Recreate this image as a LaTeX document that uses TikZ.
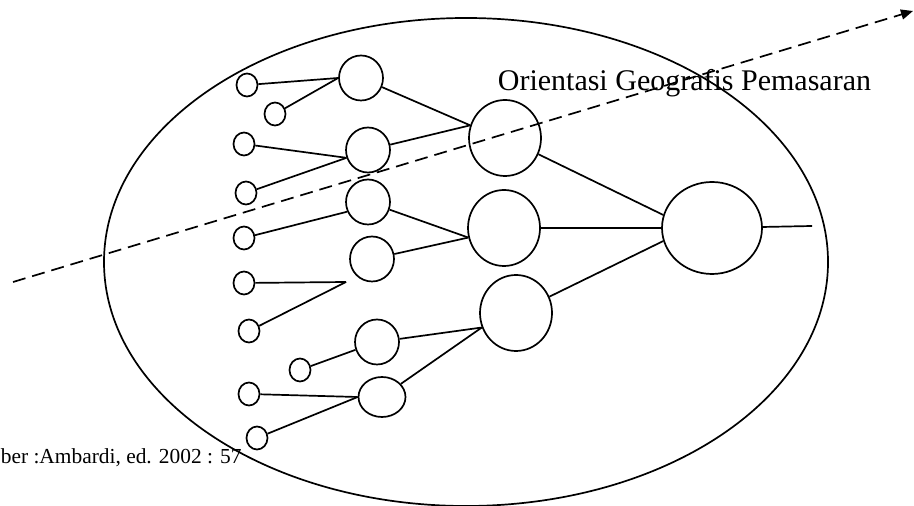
\documentclass[tikz,border=0pt]{standalone}
\usepackage{fontspec}
\setmainfont{Liberation Serif}
\usetikzlibrary{shapes.geometric,arrows.meta}
\begin{document}
\begin{tikzpicture}[x=0.5pt,y=-0.5pt,line width=0.85pt,
  leaf/.style={draw,ellipse,inner sep=0pt,minimum width=10.5pt,minimum height=11.5pt},
  mid/.style={draw,ellipse,inner sep=0pt,minimum width=22pt,minimum height=22.5pt},
  hub/.style={draw,ellipse,inner sep=0pt,minimum width=36pt,minimum height=38pt},
  core/.style={draw,ellipse,inner sep=0pt,minimum width=50pt,minimum height=46pt}]
\useasboundingbox (0,0) rectangle (914,506);
\draw (466,262) ellipse [x radius=362, y radius=244];
% left column
\node[leaf] (s1) at (247,85) {};
\node[leaf] (s2) at (275,114) {};
\node[leaf] (s3) at (244,144) {};
\node[leaf] (s4) at (246,193) {};
\node[leaf] (s5) at (244,238) {};
\node[leaf] (s6) at (244,283) {};
\node[leaf] (s7) at (249,331) {};
\node[leaf] (s8) at (300,370) {};
\node[leaf] (s9) at (249,394) {};
\node[leaf] (s10) at (257,438) {};
% second column
\node[mid] (m1) at (361,78) {};
\node[mid] (m2) at (368,150) {};
\node[mid] (m3) at (368,202) {};
\node[mid] (m4) at (372,259) {};
\node[mid] (m5) at (377,342) {};
\node[mid,minimum width=23.5pt,minimum height=20pt] (m6) at (382,397) {};
% third column
\node[hub] (L1) at (505,138) {};
\node[hub] (L2) at (504,228) {};
\node[hub] (L3) at (516,313) {};
\node[core] (c) at (712,228) {};
\coordinate (j1) at (346,282);
\coordinate (out) at (812,226);
\draw (s1) -- (m1.west);
\draw (s2) -- (m1.west);
\draw (m1) -- (L1.160);
\draw (m2) -- (L1.160);
\draw (s3) -- (m2.200);
\draw (s4) -- (m2.200);
\draw (s5) -- (m3.205);
\draw (m3) -- (L2.195);
\draw (m4) -- (L2.195);
\draw (s6) -- (j1);
\draw (s7) -- (j1);
\draw (s8) -- (m5);
\draw (m5) -- (L3.203);
\draw (m6) -- (L3.203);
\draw (s9) -- (m6.west);
\draw (s10) -- (m6.west);
\draw (L1) -- (c.165);
\draw (L2) -- (c.west);
\draw (L3) -- (c.195);
\draw (c) -- (out);
% labels
\node[anchor=base west,inner sep=0pt,font=\fontsize{15}{18}\selectfont] (title) at (497,91) {Orientasi Geografis Pemasaran};
\node[anchor=base west,inner sep=0pt,font=\fontsize{10.7}{13}\selectfont] (src) at (0,464) {ber :Ambardi, ed. 2002 : 57};
% dashed arrow
\coordinate (da) at (13,282);
\coordinate (db) at (913,11);
\draw[dash pattern=on 6.5pt off 3.5pt,-{Triangle[length=6pt,width=5pt]}] (da) -- (db);
\end{tikzpicture}
\end{document}
